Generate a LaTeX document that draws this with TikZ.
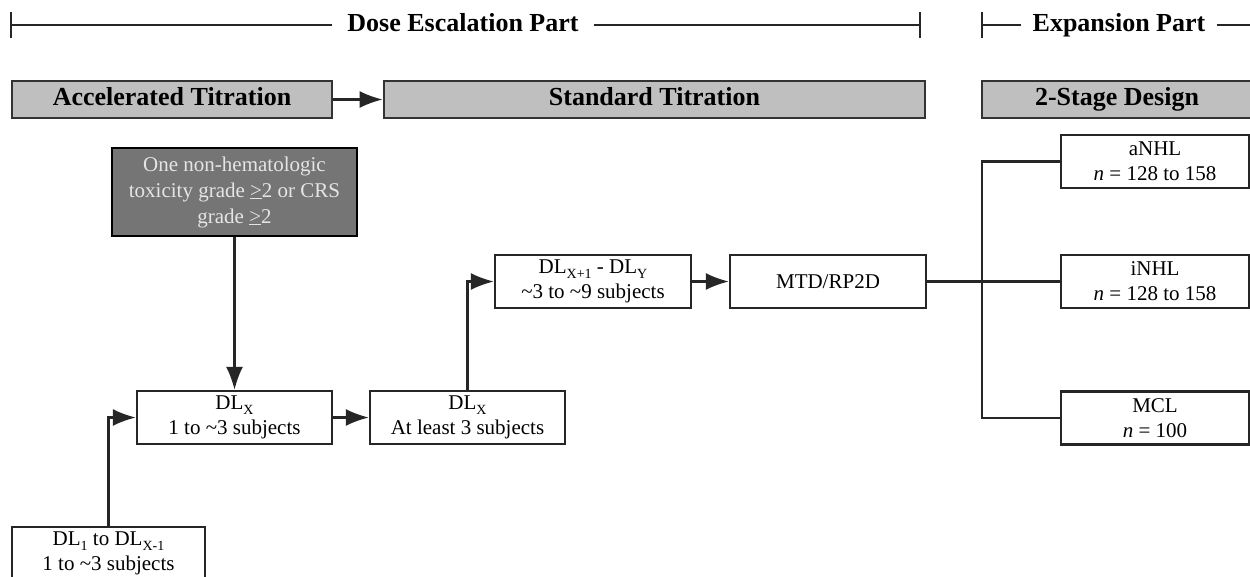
\documentclass[tikz,border=0pt]{standalone}
\usepackage{fontspec}
\setmainfont{Liberation Serif}
\usetikzlibrary{arrows.meta}
\newcommand\lowsub[1]{\raisebox{-5pt}{\fontsize{14}{14}\selectfont #1}}
\tikzset{
  hdr/.style={draw=black!80, line width=2.6pt, fill=black!25, font=\fontsize{26}{30}\selectfont\bfseries,
    inner sep=0pt, minimum height=37pt, text height=17pt, text depth=5pt},
  box/.style={draw=black!85, line width=2.2pt, fill=white, font=\fontsize{21}{25}\selectfont,
    align=center, inner sep=0pt, minimum width=195pt, minimum height=53pt},
  toxbox/.style={draw=black, line width=2.8pt, fill=black!54, text=black!10, font=\fontsize{21}{26}\selectfont,
    align=center, inner sep=0pt, minimum width=245pt, minimum height=88pt},
  conn/.style={line width=2.4pt, draw=black!85},
  arr/.style={conn, -{Latex[length=23pt,width=17pt]}},
  brk/.style={line width=2pt, draw=black!85},
  part/.style={font=\fontsize{26}{30}\selectfont\bfseries, inner ysep=0pt, inner xsep=15pt,
    text height=17pt, text depth=5pt},
}
\begin{document}
\begin{tikzpicture}[x=1pt,y=-1pt]
\clip (0,0) rectangle (1250,576);
% brackets
\coordinate (dl) at (11,25);
\coordinate (dr) at (920,25);
\node[part] (dose) at (463,25) {Dose Escalation Part};
\draw[brk] (11,12) -- (11,38);
\draw[brk] (920,12) -- (920,38);
\draw[brk] (dl) -- (dose.west);
\draw[brk] (dose.east) -- (dr);
\coordinate (el) at (982,25);
\coordinate (er) at (1252,25);
\node[part, inner xsep=11pt] (exp) at (1119,25) {Expansion Part};
\draw[brk] (982,12) -- (982,38);
\draw[brk] (el) -- (exp.west);
\draw[brk] (exp.east) -- (er);
% headers
\node[hdr, minimum width=320pt] (acc) at (172,99.5) {Accelerated Titration};
\node[hdr, minimum width=541pt] (std) at (654.5,99.5) {Standard Titration};
\node[hdr, minimum width=270pt] (stage) at (1117,99.5) {2-Stage Design};
\draw[arr] (acc.east) -- (std.west);
% boxes
\node[toxbox] (tox) at (234.5,192) {One non-hematologic\\toxicity grade \underline{>}2 or CRS\\grade \underline{>}2};
\node[box] (dlxa) at (234.5,417.5) {DL\lowsub{X}\\1 to \textasciitilde3 subjects};
\node[box] (dlxb) at (467.5,417.5) {DL\lowsub{X}\\At least 3 subjects};
\node[box, minimum width=193pt] (dl1) at (108.5,553.5) {DL\lowsub{1} to DL\lowsub{X-1}\\1 to \textasciitilde3 subjects};
\node[box, minimum width=196pt] (dlxy) at (593,281.5) {DL\lowsub{X+1} - DL\lowsub{Y}\\\textasciitilde3 to \textasciitilde9 subjects};
\node[box, minimum width=196pt] (mtd) at (828,281.5) {MTD/RP2D};
\node[box, minimum width=188pt] (anhl) at (1155,161.5) {aNHL\\\textit{n} = 128 to 158};
\node[box, minimum width=188pt] (inhl) at (1155,281.5) {iNHL\\\textit{n} = 128 to 158};
\node[box, minimum width=188pt] (mcl) at (1155,418) {MCL\\\textit{n} = 100};
% connectors
\draw[arr] (tox.south) -- (dlxa.north);
\draw[arr] (dl1.north) |- (dlxa.west);
\draw[arr] (dlxa.east) -- (dlxb.west);
\draw[arr] (dlxb.north) |- (dlxy.west);
\draw[arr] (dlxy.east) -- (mtd.west);
\coordinate (br) at (982,281.5);
\draw[conn] (mtd.east) -- (br);
\draw[conn] (anhl.west) -| (br) |- (mcl.west);
\draw[conn] (br) -- (inhl.west);
\end{tikzpicture}
\end{document}
